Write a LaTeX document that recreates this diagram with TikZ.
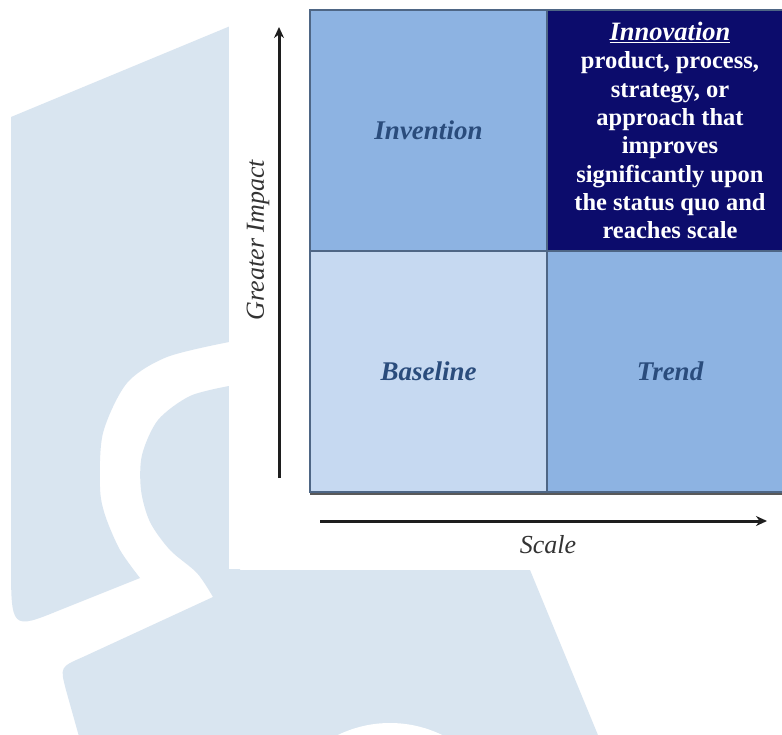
\documentclass[tikz,border=0pt]{standalone}
\usepackage{fontspec}
\setmainfont{Liberation Serif}
\usepackage{xcolor}
\usetikzlibrary{arrows.meta}

\definecolor{midblue}{HTML}{8DB3E2}
\definecolor{paleblue}{HTML}{C6D9F1}
\definecolor{navyblue}{HTML}{0C0C6C}
\definecolor{gridline}{HTML}{4E6685}
\definecolor{labelblue}{HTML}{2A4C7C}
\definecolor{wmblue}{HTML}{D9E5F0}
\definecolor{axisgray}{HTML}{1E1E1E}

\tikzset{
  cell/.style={draw=gridline, line width=1.6pt, inner sep=0pt, outer sep=0pt,
    minimum height=241pt, align=center},
  leftcell/.style={cell, minimum width=237pt},
  rightcell/.style={cell, minimum width=246pt},
  celltext/.style={text=labelblue, font=\fontsize{27}{32}\selectfont\bfseries\itshape},
  axis/.style={draw=axisgray, line width=3pt, -{Stealth[length=11pt,width=10pt]}},
  axlabel/.style={text=black!80, font=\fontsize{26}{30}\selectfont\itshape}
}

\begin{document}
\begin{tikzpicture}[x=1pt, y=-1pt]
			\useasboundingbox (0,0) rectangle (782,734);
			\clip (0,0) rectangle (782,734);
			\fill[white] (0,0) rectangle (782,734);
			\fill[wmblue] (11,117) -- (240,22) -- (240,342) -- (229,342)
				-- plot[smooth] coordinates {(229,342) (167,357) (127,383) (103,433) (100,487) (105,515) (120,550) (140,578)}
				-- (60,610) .. controls (11,630) .. (11,560) -- cycle;
			\fill[wmblue] (240,386) -- (229,386)
				-- plot[smooth] coordinates {(229,386) (190,396) (158,420) (142,455) (141,490) (150,522) (170,550) (197,573) (213,597)}
				-- (83,657) .. controls (60,667) .. (66,690) -- (80,740) -- (600,740) -- (530,570) -- (240,570) -- cycle;
			\fill[white] (390,842) circle (119);
			\fill[white] (229,-5) rectangle (790,569);
			\draw[black!65, line width=2.5pt] (310,493.5) -- (790,493.5);
			\node[leftcell, fill=midblue, celltext] (inv) at (428.5,130.5) {Invention};
			\node[rightcell, fill=navyblue, text=white, font=\fontsize{24.5}{28.3}\selectfont\bfseries] (innov) at (670,130.5)
				{{\fontsize{26.5}{28.3}\selectfont\itshape\underline{Innovation}}\\product, process,\\strategy, or\\approach that\\improves\\significantly upon\\the status quo and\\reaches scale};
			\node[leftcell, fill=paleblue, celltext] (base) at (428.5,371.5) {Baseline};
			\node[rightcell, fill=midblue, celltext] (trend) at (670,371.5) {Trend};
			\coordinate (ybot) at (279,478);
			\coordinate (ytop) at (279,27);
			\coordinate (xleft) at (320,521);
			\coordinate (xright) at (767,521);
			\draw[axis] (ybot) -- (ytop);
			\draw[axis] (xleft) -- (xright);
			\node[axlabel, rotate=90] (impact) at (258,240) {Greater Impact};
			\node[axlabel] (scale) at (548,545) {Scale};
		\end{tikzpicture}
\end{document}
